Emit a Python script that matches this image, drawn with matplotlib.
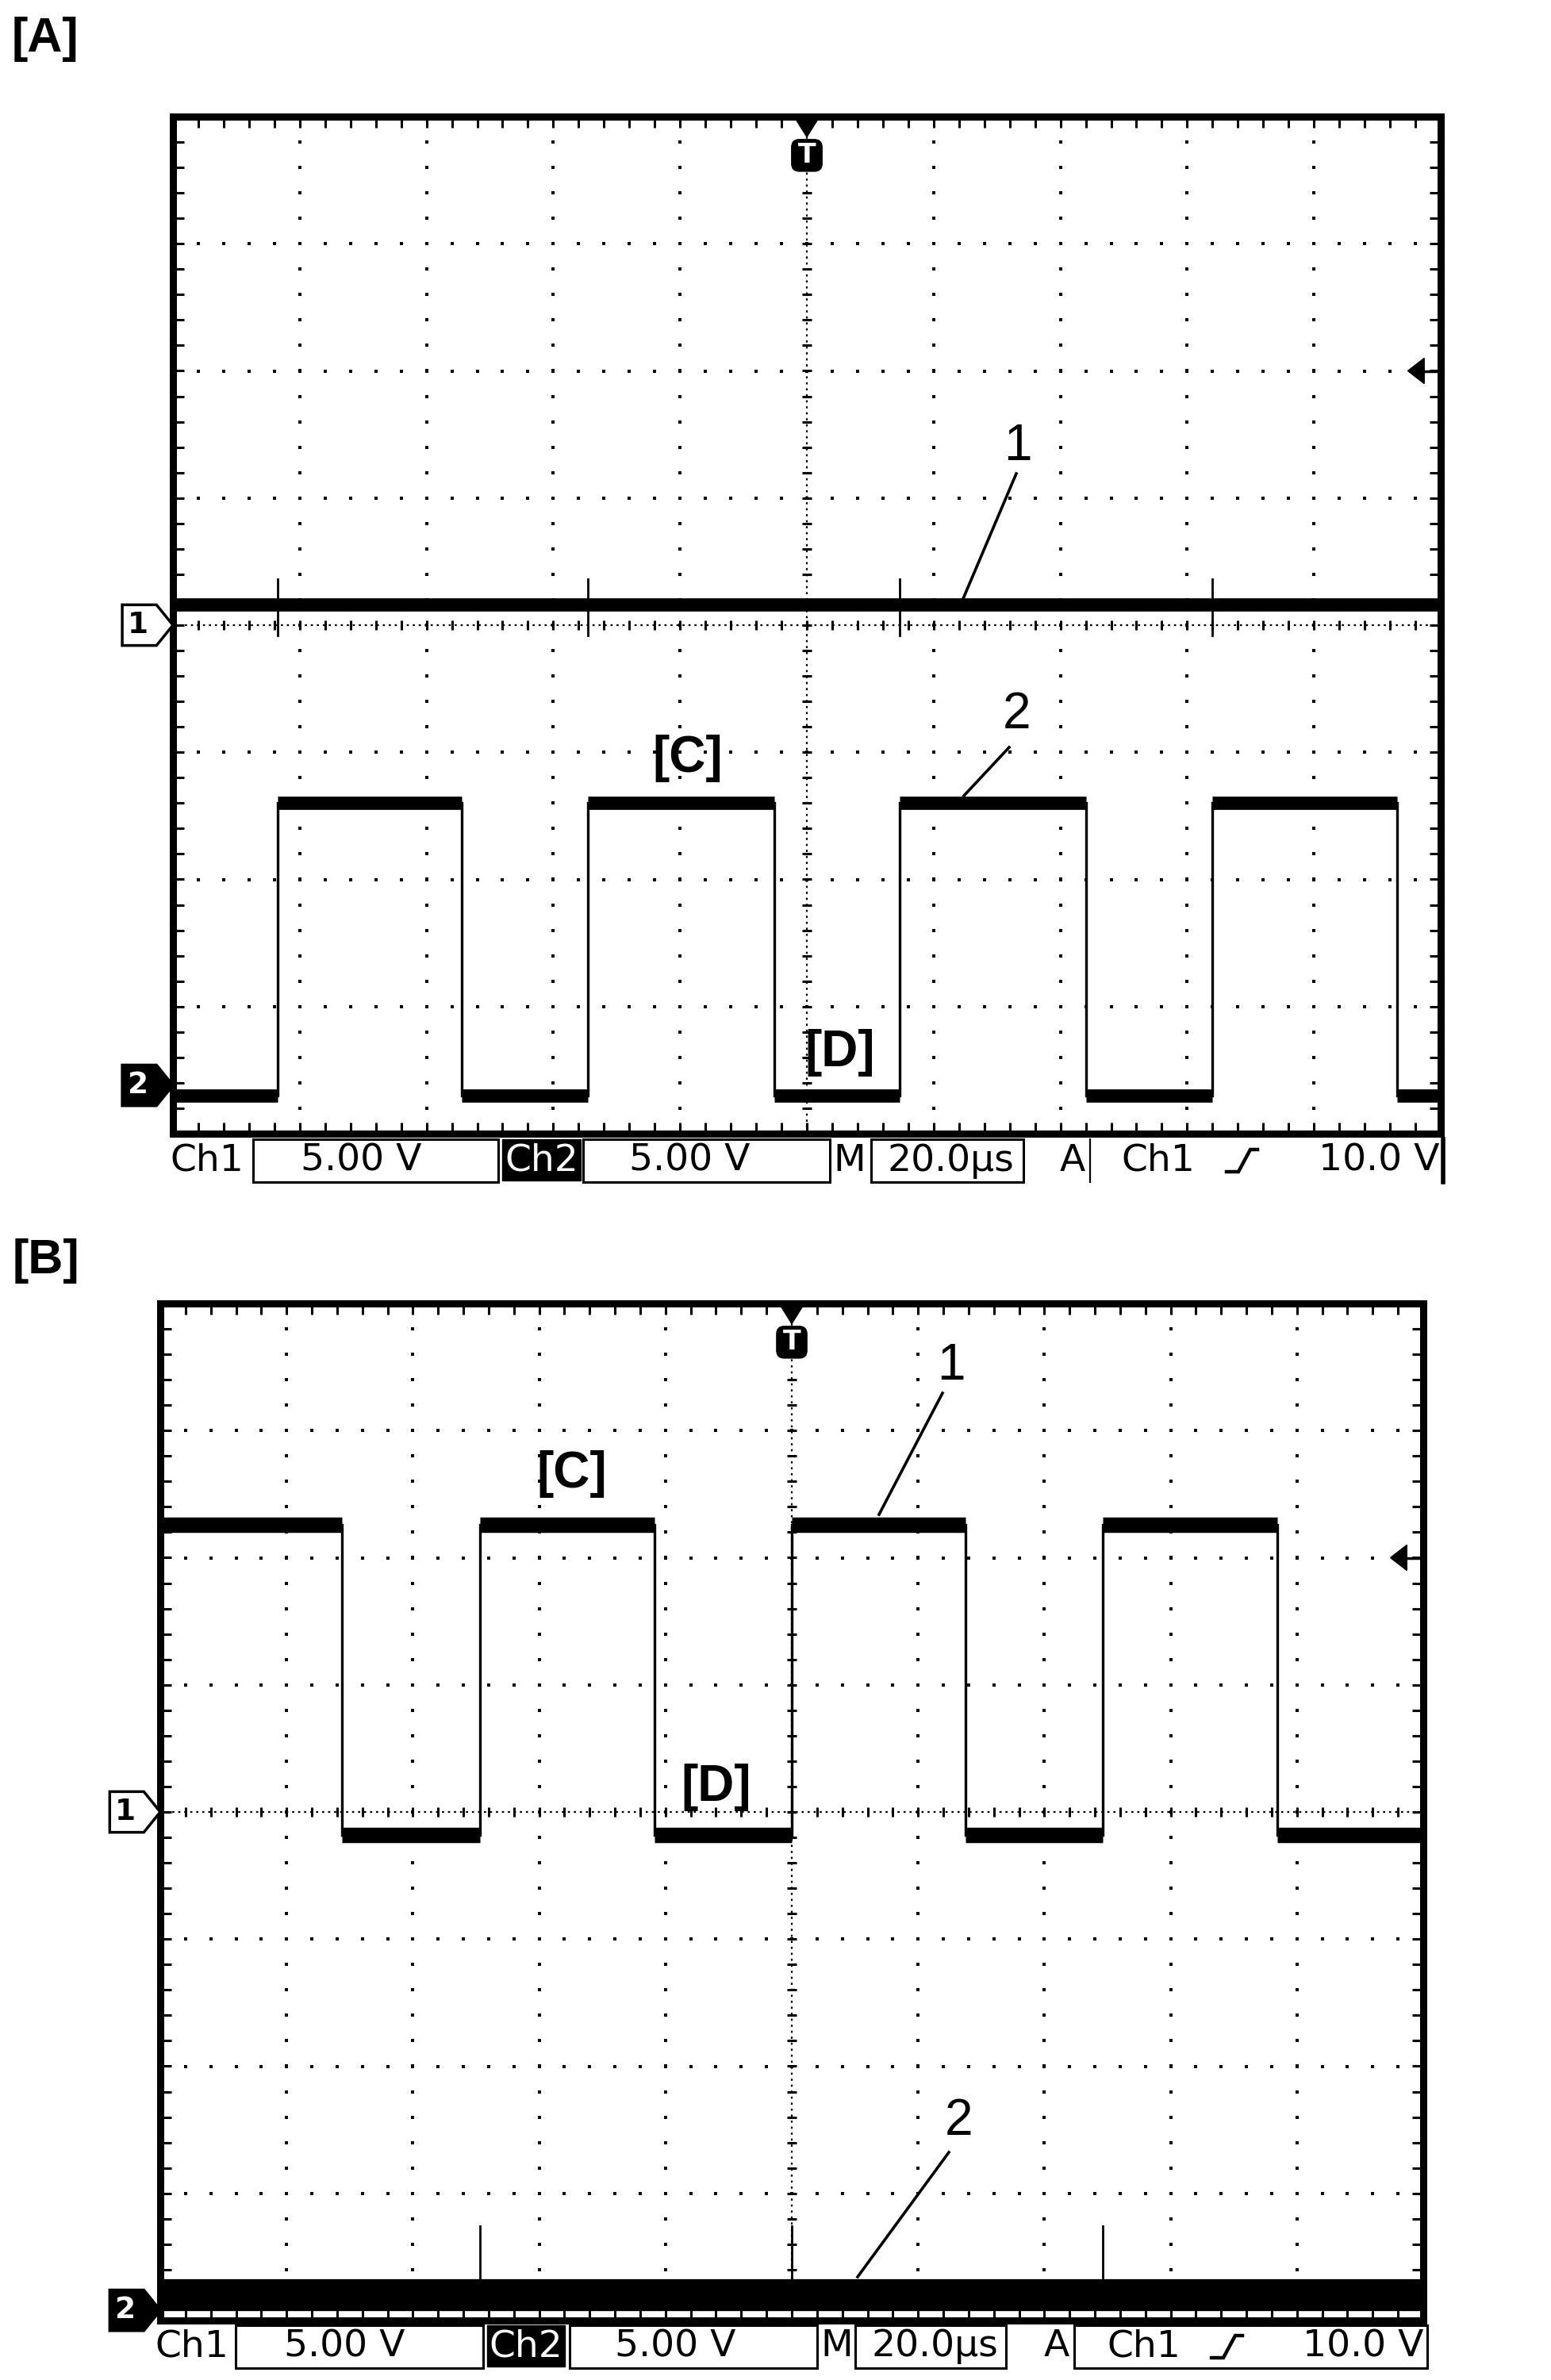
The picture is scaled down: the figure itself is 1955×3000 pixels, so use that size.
import numpy as np
import matplotlib
matplotlib.use("Agg")
import matplotlib.pyplot as plt
from matplotlib.patches import Polygon, Rectangle, FancyBboxPatch

# ---------------- data ----------------
volts_per_div = 5.0
time_per_div_us = 20.0
trigger_level_V = 10.0

# Panel A
ch1A_offset_div = 0.0
ch1A_level_V = 0.8
ch1A_spike_lo_V = -1.2
ch1A_spike_hi_V = 1.0
ch2A_offset_div = -3.62
ch2A_high_V = 11.1
ch2A_low_V = -0.4
ch2A_rise_us = [-83.5, -34.5, 14.7, 63.9]
ch2A_fall_us = [-54.4, -5.1, 44.1, 93.1]

# Panel B
ch1B_offset_div = 0.0
ch1B_high_V = 11.3
ch1B_low_V = -0.9
ch1B_rise_us = [-49.4, 0.0, 49.3]
ch1B_fall_us = [-71.2, -21.7, 27.5, 76.9]
ch2B_offset_div = -3.92
ch2B_level_V = 0.6
ch2B_spike_hi_V = 3.3

row_labels = ["Ch1", "5.00 V", "Ch2", "5.00 V", "M", "20.0\u00b5s", "A", "Ch1", "10.0 V"]

# ---------------- figure ----------------
W, H = 1956, 3000
fig = plt.figure(figsize=(W / 100, H / 100), dpi=100)
fig.patch.set_facecolor("white")

LAB = "Liberation Sans"
MONO = "DejaVu Sans"


def make_axes(left, right, top, bottom):
    ax = fig.add_axes([left / W, 1 - bottom / H, (right - left) / W, (bottom - top) / H])
    ax.set_xlim(-5, 5)
    ax.set_ylim(-4, 4)
    ax.set_xticks([])
    ax.set_yticks([])
    for s in ax.spines.values():
        s.set_linewidth(6.5)
        s.set_color("black")
        s.set_zorder(10)
    return ax


def draw_graticule(ax):
    fine = np.arange(-5, 5.001, 0.2)
    finey = np.arange(-4, 4.001, 0.2)
    # major dotted grid lines
    for gx in range(-4, 5):
        if gx == 0:
            continue
        ax.plot(np.full_like(finey, gx), finey, ls="none", marker="s", ms=3.4,
                color="black", mew=0, zorder=1)
    for gy in range(-3, 4):
        if gy == 0:
            continue
        ax.plot(fine, np.full_like(fine, gy), ls="none", marker="s", ms=3.4,
                color="black", mew=0, zorder=1)
    # centre lines
    ax.axhline(0, color="black", lw=1.6, ls=(0, (1.2, 2.2)), zorder=1)
    ax.axvline(0, color="black", lw=1.6, ls=(0, (1.2, 2.2)), zorder=1)
    ax.plot(fine, np.zeros_like(fine), ls="none", marker="|", ms=9, mew=2.2,
            color="black", zorder=1)
    ax.plot(np.zeros_like(finey), finey, ls="none", marker="_", ms=9, mew=2.2,
            color="black", zorder=1)
    # edge ticks
    ax.plot(fine, np.full_like(fine, 4), ls="none", marker="|", ms=20, mew=2.2, color="black", zorder=1)
    ax.plot(fine, np.full_like(fine, -4), ls="none", marker="|", ms=20, mew=2.2, color="black", zorder=1)
    ax.plot(np.full_like(finey, -5), finey, ls="none", marker="_", ms=20, mew=2.2, color="black", zorder=1)
    ax.plot(np.full_like(finey, 5), finey, ls="none", marker="_", ms=20, mew=2.2, color="black", zorder=1)


def vdiv(v, off):
    return off + v / volts_per_div


def square_wave(ax, rises, falls, high, low, start_high, off, band, edge=2.4):
    ev = sorted([(t, 1) for t in rises] + [(t, 0) for t in falls])
    state = start_high
    t0 = -100.0
    hd, ld = vdiv(high, off), vdiv(low, off)
    for t, kind in ev + [(100.0, None)]:
        lev = hd if state else ld
        ax.plot([t0 / time_per_div_us, t / time_per_div_us], [lev, lev], color="black",
                lw=band, solid_capstyle="butt", zorder=5)
        if kind is not None:
            ax.plot([t / time_per_div_us] * 2, [ld, hd], color="black", lw=edge, zorder=5)
            state = bool(kind)
        t0 = t


def flat_trace(ax, level, off, band):
    ax.plot([-5, 5], [vdiv(level, off)] * 2, color="black", lw=band,
            solid_capstyle="butt", zorder=5)


def spikes(ax, times, lo, hi, off):
    for t in times:
        ax.plot([t / time_per_div_us] * 2, [vdiv(lo, off), vdiv(hi, off)], color="black",
                lw=2.0, zorder=5)


def ground_marker(ax, off, label, filled):
    x0, x1 = -5.40, -5.13
    h = 0.16
    poly = Polygon([(x0, off + h), (x1, off + h), (-5.0, off), (x1, off - h), (x0, off - h)],
                   closed=True, facecolor="black" if filled else "white",
                   edgecolor="black", lw=2.5, clip_on=False, zorder=12)
    ax.add_patch(poly)
    ax.text((x0 + x1) / 2 - 0.01, off, label, ha="center", va="center", fontsize=27,
            fontweight="bold", family=MONO, color="white" if filled else "black",
            clip_on=False, zorder=13)


def trigger_markers(ax, level_div):
    # top triangle and T box at trigger time 0
    ax.add_patch(Polygon([(-0.1, 4.0), (0.1, 4.0), (0.0, 3.84)], closed=True,
                         facecolor="black", edgecolor="black", zorder=11, clip_on=False))
    ax.add_patch(FancyBboxPatch((-0.1, 3.59), 0.2, 0.21,
                                boxstyle="round,pad=0.02,rounding_size=0.06",
                                facecolor="black", edgecolor="black", zorder=11))
    ax.text(0.0, 3.695, "T", ha="center", va="center", color="white", fontsize=24,
            fontweight="bold", family=MONO, zorder=12)
    # trigger level arrow on the right
    ax.add_patch(Polygon([(4.74, level_div), (4.87, level_div + 0.1), (4.87, level_div - 0.1)],
                         closed=True, facecolor="black", edgecolor="black", zorder=11))
    ax.plot([4.87, 5.0], [level_div, level_div], color="black", lw=2.5, zorder=11)


# ---------------- Panel A ----------------
axA = make_axes(218, 1816, 147, 1429)
draw_graticule(axA)
flat_trace(axA, ch1A_level_V, ch1A_offset_div, band=12)
spikes(axA, ch2A_rise_us, ch1A_spike_lo_V + ch1A_level_V, ch1A_spike_hi_V + ch1A_level_V, ch1A_offset_div)
square_wave(axA, ch2A_rise_us, ch2A_fall_us, ch2A_high_V, ch2A_low_V, False, ch2A_offset_div, band=12)
ground_marker(axA, ch1A_offset_div, "1", False)
ground_marker(axA, ch2A_offset_div, "2", True)
trigger_markers(axA, vdiv(trigger_level_V, ch1A_offset_div))

# ---------------- Panel B ----------------
axB = make_axes(202, 1794, 1643, 2925)
draw_graticule(axB)
square_wave(axB, ch1B_rise_us, ch1B_fall_us, ch1B_high_V, ch1B_low_V, True, ch1B_offset_div, band=14)
flat_trace(axB, ch2B_level_V, ch2B_offset_div, band=29)
spikes(axB, ch1B_rise_us, ch2B_level_V, ch2B_spike_hi_V, ch2B_offset_div)
ground_marker(axB, ch1B_offset_div, "1", False)
ground_marker(axB, ch2B_offset_div, "2", True)
trigger_markers(axB, vdiv(trigger_level_V, ch1B_offset_div))

# ---------------- overlay in pixel coordinates ----------------
ov = fig.add_axes([0, 0, 1, 1])
ov.set_xlim(0, W)
ov.set_ylim(H, 0)
ov.axis("off")
ov.patch.set_alpha(0)
ov.set_zorder(20)

# panel letters
ov.text(57, 50, "[A]", ha="center", va="center", fontsize=44, fontweight="bold", family=LAB)
ov.text(58, 1590, "[B]", ha="center", va="center", fontsize=44, fontweight="bold", family=LAB)

# annotations
ov.text(867, 956, "[C]", ha="center", va="center", fontsize=46, fontweight="bold", family=LAB)
ov.text(1059, 1327, "[D]", ha="center", va="center", fontsize=46, fontweight="bold", family=LAB)
ov.text(1283, 563, "1", ha="center", va="center", fontsize=46, family=LAB)
ov.plot([1281, 1213], [597, 757], color="black", lw=2.6)
ov.text(1282, 901, "2", ha="center", va="center", fontsize=46, family=LAB)
ov.plot([1272, 1215], [942, 1003], color="black", lw=2.6)

ov.text(721, 1858, "[C]", ha="center", va="center", fontsize=46, fontweight="bold", family=LAB)
ov.text(903, 2253, "[D]", ha="center", va="center", fontsize=46, fontweight="bold", family=LAB)
ov.text(1199, 1722, "1", ha="center", va="center", fontsize=46, family=LAB)
ov.plot([1188, 1108], [1756, 1909], color="black", lw=2.6)
ov.text(1209, 2674, "2", ha="center", va="center", fontsize=46, family=LAB)
ov.plot([1196, 1081], [2713, 2870], color="black", lw=2.6)


def status_row(y0, y1, xs, full_last_box):
    yc = (y0 + y1) / 2
    fs = 34
    (ch1_c, b1, t1_c, ch2_box, b2, t2_c, m_c, b3, t3_c, a_c, b4, chx_c, slope_x, v_right) = xs
    ov.text(ch1_c, yc, row_labels[0], ha="center", va="center", fontsize=fs, family=MONO)
    ov.add_patch(Rectangle((b1[0], y0), b1[1] - b1[0], y1 - y0, fill=False, lw=2.2, ec="black"))
    ov.text(t1_c, yc, row_labels[1], ha="center", va="center", fontsize=fs, family=MONO)
    ov.add_patch(Rectangle((ch2_box[0], y0), ch2_box[1] - ch2_box[0], y1 - y0 - 2,
                           facecolor="black", ec="black", lw=1))
    ov.text((ch2_box[0] + ch2_box[1]) / 2, yc, row_labels[2], ha="center", va="center",
            fontsize=fs, family=MONO, color="white")
    ov.add_patch(Rectangle((b2[0], y0), b2[1] - b2[0], y1 - y0, fill=False, lw=2.2, ec="black"))
    ov.text(t2_c, yc, row_labels[3], ha="center", va="center", fontsize=fs, family=MONO)
    ov.text(m_c, yc, row_labels[4], ha="center", va="center", fontsize=fs, family=MONO)
    ov.add_patch(Rectangle((b3[0], y0), b3[1] - b3[0], y1 - y0, fill=False, lw=2.2, ec="black"))
    ov.text(t3_c, yc, row_labels[5], ha="center", va="center", fontsize=fs, family=MONO)
    ov.text(a_c, yc, row_labels[6], ha="center", va="center", fontsize=fs, family=MONO)
    if full_last_box:
        ov.add_patch(Rectangle((b4[0], y0), b4[1] - b4[0], y1 - y0, fill=False, lw=2.2, ec="black"))
    else:
        ov.plot([b4[0], b4[0]], [y0, y1], color="black", lw=1.6)
        ov.plot([b4[1], b4[1]], [y0, y1], color="black", lw=4)
    ov.text(chx_c, yc, row_labels[7], ha="center", va="center", fontsize=fs, family=MONO)
    sx = slope_x
    ov.plot([sx, sx + 15, sx + 30, sx + 39], [yc + 14, yc + 14, yc - 14, yc - 14],
            color="black", lw=3.2, solid_joinstyle="miter")
    ov.text(v_right, yc, row_labels[8], ha="right", va="center", fontsize=fs, family=MONO)


status_row(1436, 1490,
           (261, (319, 628), 455, (633, 732), (735, 1046), 869, 1071, (1098, 1290), 1198,
            1352, (1374, 1819), 1460, 1546, 1815),
           full_last_box=False)
status_row(2931, 2985,
           (242, (297, 609), 434, (614, 712), (718, 1030), 851, 1055, (1078, 1268), 1178,
            1332, (1354, 1799), 1442, 1527, 1795),
           full_last_box=True)

fig.savefig("out.png", dpi=100, facecolor="white")
